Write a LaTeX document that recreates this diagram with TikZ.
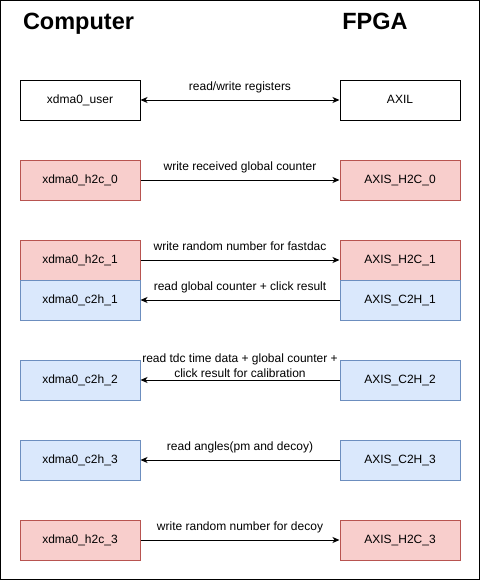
\documentclass[tikz,border=0pt]{standalone}
\usepackage{fontspec}
\setmainfont{Liberation Sans}
\usetikzlibrary{arrows.meta}
\definecolor{redfill}{HTML}{F8CECC}
\definecolor{redline}{HTML}{B85450}
\definecolor{bluefill}{HTML}{DAE8FC}
\definecolor{blueline}{HTML}{6C8EBF}
\begin{document}
\begin{tikzpicture}[x=1pt,y=-1pt,
 box/.style={rectangle, draw, line width=1pt, minimum width=120pt, minimum height=40pt,
   inner sep=0pt, text height=8.6pt, text depth=2.4pt, font=\fontsize{12}{15}\selectfont},
 plainbox/.style={box, draw=black, fill=white},
 hbox/.style={box, draw=redline, fill=redfill},
 cbox/.style={box, draw=blueline, fill=bluefill},
 lbl/.style={font=\fontsize{12}{15}\selectfont, align=center, inner sep=0pt, anchor=base},
 title/.style={font=\fontsize{23.5}{28}\selectfont\bfseries, inner sep=0pt, anchor=base},
 arr/.style={line width=1pt, -{Stealth[length=7pt,width=6pt,inset=2pt]}},
 darr/.style={line width=1pt, {Stealth[length=7pt,width=6pt,inset=2pt]}-{Stealth[length=7pt,width=6pt,inset=2pt]}},
]
\useasboundingbox (0,0) rectangle (481,581);
\draw[line width=1pt] (0.5,0.5) rectangle (479.5,579.5);

\node[title] (tcomp) at (78.5,29.5) {Computer};
\node[title] (tfpga) at (375,29.5) {FPGA};

\node[plainbox] (user) at (80,100) {xdma0\_user};
\node[plainbox] (axil) at (400,100) {AXIL};

\node[hbox] (h2c0) at (80,180) {xdma0\_h2c\_0};
\node[hbox] (ah2c0) at (400,180) {AXIS\_H2C\_0};

\node[hbox] (h2c1) at (80,260) {xdma0\_h2c\_1};
\node[hbox] (ah2c1) at (400,260) {AXIS\_H2C\_1};
\node[cbox] (c2h1) at (80,300) {xdma0\_c2h\_1};
\node[cbox] (ac2h1) at (400,300) {AXIS\_C2H\_1};

\node[cbox] (c2h2) at (80,380) {xdma0\_c2h\_2};
\node[cbox] (ac2h2) at (400,380) {AXIS\_C2H\_2};

\node[cbox] (c2h3) at (80,460) {xdma0\_c2h\_3};
\node[cbox] (ac2h3) at (400,460) {AXIS\_C2H\_3};

\node[hbox] (h2c3) at (80,540) {xdma0\_h2c\_3};
\node[hbox] (ah2c3) at (400,540) {AXIS\_H2C\_3};

\draw[darr] (user) -- (axil);
\draw[arr] (h2c0) -- (ah2c0);
\draw[arr] (h2c1) -- (ah2c1);
\draw[arr] (ac2h1) -- (c2h1);
\draw[arr] (ac2h2) -- (c2h2);
\draw[arr] (ac2h3) -- (c2h3);
\draw[arr] (h2c3) -- (ah2c3);

\node[lbl] (l0) at (240,90) {read/write registers};
\node[lbl] (l1) at (240,170) {write received global counter};
\node[lbl] (l2) at (240,250) {write random number for fastdac};
\node[lbl] (l3) at (240,290) {read global counter + click result};
\node[lbl] (l4) at (240,377) {read tdc time data + global counter +\\click result for calibration};
\node[lbl] (l5) at (240,450) {read angles(pm and decoy)};
\node[lbl] (l6) at (240,530) {write random number for decoy};
\end{tikzpicture}
\end{document}
